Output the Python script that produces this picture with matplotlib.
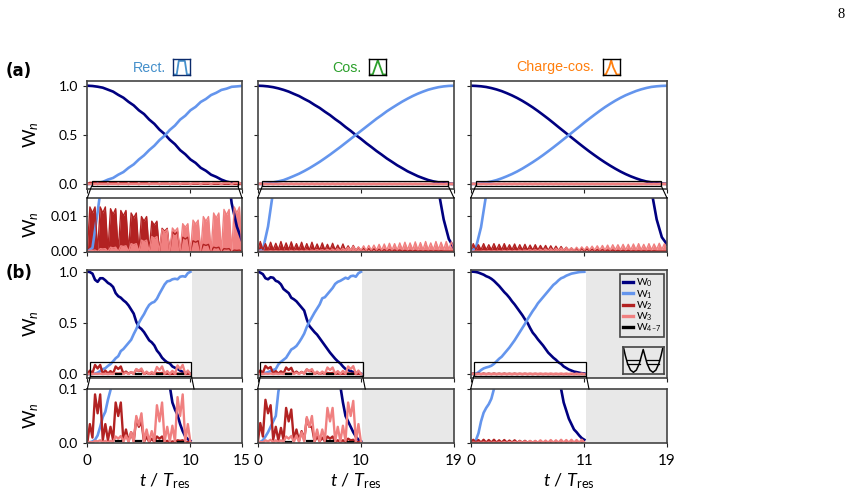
import numpy as np
import matplotlib
matplotlib.use("Agg")
import matplotlib.pyplot as plt
from matplotlib.lines import Line2D
from matplotlib.patches import Rectangle

plt.rcParams['font.family'] = ['Lato', 'DejaVu Sans']
plt.rcParams['mathtext.fontset'] = 'custom'
plt.rcParams['mathtext.rm'] = 'Lato'
plt.rcParams['mathtext.it'] = 'Lato:italic'

W, H = 853, 491

# populations, rectangular / cosine / charge-cosine pulses, closed system
a1_w0 = [1.0,.997,.99,.98,.96,.94,.907,.878,.836,.80,.75,.712,.656,.612,.553,.508,.45,.405,.345,.303,.25,.215,.165,.135,.095,.073,.045,.025,.0135,.007,.003]
a1_w1 = [0,.001,.011,.022,.045,.062,.095,.122,.165,.2,.25,.292,.345,.39,.447,.492,.55,.595,.655,.695,.75,.785,.835,.865,.905,.928,.957,.97,.989,.993,.998]
a1_w2 = [0,.0125,.0108,.0125, 0,.0125,.0108,.0125, 0,.012,.0104,.012, 0,.0115,.01,.0115,
         0,.0108,.0094,.0108, 0,.0098,.0085,.0098, 0,.0085,.0074,.0085, 0,.0065,.0057,.0065,
         0,.0055,.0048,.0055, 0,.004,.0035,.004, 0,.003,.0026,.003, 0,.002,.0017,.002,
         0,.0012,.001,.0012, 0,.0008,.0007,.0008, 0,.0004,.0003,.0004, 0]
a1_w3 = [0,.0004,.0003,.0004, 0,.0008,.0007,.0008, 0,.0012,.001,.0012, 0,.0016,.0014,.0016,
         0,.0022,.0019,.0022, 0,.0032,.0028,.0032, 0,.0042,.0037,.0042, 0,.0062,.0054,.0062,
         0,.0066,.0057,.0066, 0,.0078,.0068,.0078, 0,.0088,.0077,.0088, 0,.0098,.0085,.0098,
         0,.0108,.0094,.0108, 0,.0118,.0103,.0118, 0,.0125,.0108,.0125, 0]

a2_w0 = [1.0,.998,.993,.985,.973,.958,.94,.917,.895,.866,.839,.805,.774,.736,.701,.66,.623,.58,.541,.498,.459,.416,.377,.336,.299,.26,.226,.191,.161,.13,.105,.08,.06,.041,.027,.017,.009,.0035,.001]
a2_w1 = [0,.0005,.007,.017,.027,.04,.06,.082,.105,.132,.161,.193,.226,.262,.299,.338,.377,.418,.459,.5,.541,.582,.623,.664,.701,.74,.774,.807,.839,.868,.895,.919,.94,.959,.973,.985,.993,.998,1.0]
a2_w2 = [.0003,.0028,.0005,.0022,.0005,.0026,.0005,.0023,.0005,.0028,.0005,.0024,.0005,.0027,.0005,.0022,.0005,.0026,.0004,.0022,
         .0004,.0026,.0004,.0021,.0004,.0024,.0004,.002,.0004,.0023,.0004,.0018,.0003,.0021,.0003,.0016,.0003,.0017,.0003,.0012,
         .0003,.0009,.0002,.0008,.0002,.0007,.0002,.0006,.0002,.0005,.0002,.0005,.0002,.0004,.0002,.0004,.0001,.0003,.0001,.0003,
         .0001,.0003,.0001,.0002,.0001,.0002,.0001,.0002,.0001,.0002,.0001,.0002,.0001,.0001,.0001,.0001,.0001]
a2_w3 = [.0001,.0001,.0001,.0001,.0001,.0002,.0001,.0002,.0001,.0002,.0001,.0002,.0001,.0003,.0001,.0003,.0001,.0003,.0001,.0004,
         .0001,.0004,.0002,.0005,.0002,.0005,.0002,.0006,.0002,.0007,.0002,.0008,.0002,.0009,.0003,.0012,.0003,.0015,.0003,.0013,
         .0003,.0016,.0003,.0017,.0004,.0018,.0004,.002,.0004,.0021,.0004,.0023,.0004,.0022,.0004,.0024,.0005,.0026,.0005,.0024,
         .0005,.0027,.0005,.0025,.0005,.0028,.0005,.0024,.0005,.0028,.0006,.0026,.0006,.0028,.0006,.0027,.0006]

a3_w0 = [1.0,.998,.994,.987,.976,.962,.945,.924,.901,.875,.846,.814,.78,.743,.704,.664,.622,.579,.537,.495,.453,.411,.37,.33,.292,.255,.22,.187,.156,.127,.101,.078,.058,.04,.026,.017,.009,.004,.002]
a3_w1 = [0,.001,.0068,.016,.026,.04,.058,.079,.102,.128,.157,.189,.222,.257,.294,.333,.373,.414,.456,.498,.54,.582,.625,.666,.706,.745,.782,.816,.848,.877,.903,.925,.946,.963,.977,.988,.994,.998,1.0]
a3_w2 = [.0004,.0022,.0005,.0019,.0005,.0022,.0005,.0019,.0005,.0022,.0005,.002,.0005,.0022,.0005,.0019,.0005,.0021,.0004,.0019,
         .0004,.002,.0004,.0018,.0004,.0019,.0004,.0017,.0004,.0017,.0003,.0016,.0003,.0015,.0003,.0014,.0003,.0012,.0003,.001,
         .0003,.0009,.0002,.0008,.0002,.0007,.0002,.0006,.0002,.0005,.0002,.0005,.0002,.0004,.0002,.0004,.0001,.0003,.0001,.0003,
         .0001,.0003,.0001,.0002,.0001,.0002,.0001,.0002,.0001,.0002,.0001,.0002,.0001,.0001,.0001,.0001,.0001]
a3_w3 = [.0001,.0001,.0001,.0001,.0001,.0002,.0001,.0002,.0001,.0002,.0001,.0002,.0001,.0003,.0001,.0003,.0001,.0003,.0001,.0004,
         .0001,.0004,.0002,.0005,.0002,.0005,.0002,.0006,.0002,.0007,.0002,.0008,.0002,.0009,.0003,.001,.0003,.0011,.0003,.001,
         .0003,.0012,.0003,.0013,.0004,.0014,.0004,.0015,.0004,.0016,.0004,.0017,.0004,.0018,.0004,.0019,.0005,.0019,.0005,.002,
         .0005,.002,.0005,.0021,.0005,.0022,.0005,.002,.0005,.0022,.0005,.0021,.0006,.0023,.0006,.0022,.0006]

# same pulses with a leakage channel open
b1_w0 = [1.0,.995,.98,.92,.90,.935,.935,.915,.89,.875,.85,.79,.76,.745,.72,.70,.67,.63,.59,.51,.46,.44,.41,.37,.33,.31,.28,.23,.20,.16,.135,.115,.105,.075,.062,.052,.035,.022,.012,.007,.004]
b1_w1 = [0,.001,.003,.006,.014,.03,.048,.058,.08,.098,.125,.155,.175,.225,.245,.275,.305,.335,.39,.44,.50,.545,.585,.635,.675,.695,.705,.735,.785,.83,.875,.905,.91,.925,.93,.925,.95,.955,.95,.985,.998]
b1_w2 = [0,.035,.01,.09,.055,.09,.005,.035,.005,.03,.005,.075,.05,.075,.004,.025,.003,.02,.003,.045,.03,.04,.002,.012,.002,.008,.002,.012,.008,.012,.002,.004,.001,.003,.002,.005,.004,.005,.001,.002,.001]
b1_w3 = [0,.002,.001,.004,.003,.005,.001,.004,.001,.004,.002,.012,.008,.013,.002,.014,.002,.02,.003,.05,.033,.055,.003,.025,.003,.022,.003,.07,.04,.075,.003,.03,.003,.032,.003,.085,.05,.09,.002,.035,.001]
b1_w47 = [0,0,0,.0005,.0005,.0005,0,.0005,0,.0005,.001,.003,.003,.003,.001,.0005,0,.0005,.001,.003,.003,.003,.001,.0005,0,.0005,.001,.003,.003,.003,.001,.0005,0,.0005,.001,.002,.002,.002,0,0,0]

b2_w0 = [1.0,.99,.975,.935,.925,.945,.94,.91,.90,.875,.83,.81,.79,.745,.73,.71,.68,.65,.62,.535,.47,.44,.41,.385,.35,.315,.28,.245,.21,.18,.15,.125,.105,.075,.05,.04,.03,.02,.012,.006,.003]
b2_w1 = [0,.002,.005,.012,.02,.03,.04,.05,.095,.12,.14,.16,.2,.24,.255,.275,.31,.35,.395,.46,.51,.555,.6,.64,.68,.74,.75,.78,.81,.84,.88,.90,.91,.925,.94,.93,.955,.96,.95,.985,.998]
b2_w2 = [0,.037,.012,.08,.055,.07,.006,.03,.005,.028,.006,.065,.04,.062,.005,.025,.004,.022,.006,.045,.03,.03,.003,.012,.003,.01,.003,.012,.008,.012,.002,.005,.002,.005,.002,.008,.005,.006,.001,.002,.001]
b2_w3 = [0,.002,.001,.005,.003,.006,.001,.005,.002,.005,.002,.012,.008,.013,.002,.014,.002,.02,.003,.048,.03,.05,.003,.025,.003,.025,.004,.065,.04,.065,.003,.03,.003,.032,.004,.075,.05,.078,.003,.035,.001]
b2_w47 = [0,0,0,.0005,.0005,.0005,0,.0005,0,.0005,.001,.002,.002,.002,.001,.0005,0,.0005,.001,.003,.003,.003,.001,.0005,0,.0005,.001,.003,.003,.003,.001,.0005,0,.0005,.001,.002,.002,.002,0,0,0]

b3_w0 = [1.0,.999,.996,.99,.98,.97,.955,.945,.93,.91,.885,.86,.83,.80,.775,.745,.71,.68,.645,.61,.575,.535,.5,.45,.405,.375,.34,.31,.28,.245,.21,.185,.16,.14,.115,.10,.075,.06,.045,.035,.025,.02,.014,.009,.006]
b3_w1 = [0,.001,.005,.018,.04,.056,.065,.072,.082,.1,.125,.15,.17,.2,.23,.26,.295,.33,.37,.41,.45,.49,.535,.575,.615,.65,.69,.72,.75,.78,.81,.84,.87,.89,.915,.935,.945,.96,.97,.98,.985,.99,.995,.997,.998]
b3_w2 = [.0006,.006,.0006,.0055,.0006,.006,.0006,.0055,.0006,.006,.0006,.005,.0006,.0055,.0006,.0045,.0006,.005,.0005,.004,.0005,.004,.0005,.003,.0005,.003,.0004,.002,.0004,.0018,.0004,.0015,.0003,.0012,.0003,.001,.0003,.001,.0002,.0009,.0002,.0008,.0002,.0007,.0002]
b3_w3 = [.0002,.0007,.0002,.0008,.0002,.0009,.0002,.001,.0003,.001,.0003,.0012,.0003,.0015,.0003,.0018,.0004,.002,.0004,.003,.0005,.003,.0005,.004,.0005,.004,.0005,.005,.0006,.0045,.0006,.0055,.0006,.005,.0006,.006,.0006,.0055,.0006,.006,.0006,.0055,.0006,.006,.0006]
b3_w47 = [0,0,0,.0002,0,.0002,0,.0002,0,.0002,0,.0002,0,.0002,0,.0002,0,.0002,0,.0002,0,.0002,0,.0002,0,.0002,0,.0002,0,.0002,0,.0002,0,.0002,0,.0002,0,.0002,0,.0002,0,.0002,0,.0002,0]

titles = ['Rect.', 'Cos.', 'Charge-cos.']
title_colors = ['#4590CB', '#2CA02C', '#FF7F0E']
title_left = [132.7, 332.3, 516.7]
icon_left = [173.3, 369.3, 602.7]
icon_frame = ['#0B2A6B', 'black', 'black']
icon_x = [[0, .2, .32, .68, .8, 1], [0, .2, .5, .8, 1], [0, .18, .38, .5, .62, .82, 1]]
icon_y = [[.05, .05, .9, .9, .05, .05], [.05, .05, .95, .05, .05], [.05, .05, .5, .95, .5, .05, .05]]

xlims = [15, 19, 19]
shade_from = [10.15, 10.1, 11.15]
ticks = [[0, 10, 15], [0, 10, 19], [0, 11, 19]]
col_px = [(87.3, 242), (257.7, 454), (470.7, 667)]
rect_a = [(.42, 14.6), (.45, 18.45), (.48, 18.45)]
rect_b = [(.3, 10.1), (.26, 10.16), (.3, 11.2)]

well_x = [-1, -.92, -.8, -.65, -.5, -.35, -.2, -.08, 0, .08, .2, .35, .5, .65, .8, .92, 1]
well_y = [1, .72, .38, .12, .03, .12, .38, .72, .95, .72, .38, .12, .03, .12, .38, .72, 1]
well_levels = [.38, .52]

series_a = [(a1_w0, a1_w1, a1_w2, a1_w3), (a2_w0, a2_w1, a2_w2, a2_w3), (a3_w0, a3_w1, a3_w2, a3_w3)]
series_b = [(b1_w0, b1_w1, b1_w2, b1_w3, b1_w47), (b2_w0, b2_w1, b2_w2, b2_w3, b2_w47), (b3_w0, b3_w1, b3_w2, b3_w3, b3_w47)]

colors = ['#000080', '#6495ED', '#B22222', '#F08080', 'black']
SPINE = '#444444'
GREY = '#E8E8E8'

fig = plt.figure(figsize=(W / 100, H / 100), dpi=100)


def px_axes(x0, x1, ytop, ybot):
    return fig.add_axes([x0 / W, 1 - ybot / H, (x1 - x0) / W, (ybot - ytop) / H])


def style(ax, col, xmax, xt, yt, ylab, ylabels, xlabels=False):
    ax.set_xlim(0, xmax)
    ax.set_xticks(xt)
    ax.set_yticks(yt)
    ax.set_yticklabels(ylabels if col == 0 else [])
    ax.set_xticklabels([str(v) for v in xt] if xlabels else [])
    ax.tick_params(length=3, width=.8, pad=3.5, labelsize=10, color='#222222')
    ax.tick_params(axis='x', pad=5, labelsize=11)
    for s in ax.spines.values():
        s.set_color(SPINE)
        s.set_linewidth(1.2)
    if col == 0:
        ax.set_ylabel(ylab, fontsize=13, labelpad=0)
        ax.yaxis.set_label_coords(-.30, .5)


def draw(ax, tw, tp, d, filled=False):
    lw = 1.0 if filled else 1.7
    ax.plot(tw, d[0], color=colors[0], lw=1.9)
    ax.plot(tw, d[1], color=colors[1], lw=1.9)
    ax.plot(tp, d[2], color=colors[2], lw=lw)
    if filled:
        ax.fill_between(tp, d[2], color=colors[2], lw=0)
        ax.fill_between(tp, d[3], color=colors[3], lw=0)
    ax.plot(tp, d[3], color=colors[3], lw=lw)
    if len(d) > 4:
        # only the visible excursions, the rest stays under the baseline
        ax.plot(tp, np.ma.masked_less(d[4], .002), color=colors[4], lw=1.6)


def connect(x0, y0, x1, y1):
    fig.add_artist(Line2D([x0 / W, x1 / W], [1 - y0 / H, 1 - y1 / H], color='black', lw=.8))


for col in range(3):
    x0, x1 = col_px[col]
    ppt = (x1 - x0) / xlims[col]

    # closed system: main panel and magnified baseline
    tw = np.arange(len(series_a[col][0])) * .5
    tp = np.arange(len(series_a[col][2])) * .25
    ax = px_axes(x0, x1, 80.7, 189.3)
    draw(ax, tw, tp, series_a[col])
    ax.set_ylim(-.0535, 1.051)
    style(ax, col, xlims[col], ticks[col], [0, .5, 1], 'W$_n$', ['0.0', '0.5', '1.0'])
    r0, r1 = rect_a[col]
    ax.add_patch(Rectangle((r0, -.02), r1 - r0, .054, fill=False, ec='black', lw=.9, zorder=5))
    connect(x0 + r0 * ppt, 186, x0, 198)
    connect(x0 + r1 * ppt, 186, x1, 198)

    ax = px_axes(x0, x1, 198, 251.5)
    draw(ax, tw, tp, series_a[col], filled=True)
    ax.set_ylim(0, .015)
    style(ax, col, xlims[col], ticks[col], [0, .01], 'W$_n$', ['0.00', '0.01'])

    # open system: data stops at the end of the pulse, rest is shaded
    tw = np.arange(len(series_b[col][0])) * .25
    ax = px_axes(x0, x1, 270, 378)
    ax.axvspan(shade_from[col], xlims[col], color=GREY, lw=0)
    draw(ax, tw, tw, series_b[col])
    ax.set_ylim(-.0375, 1.0155)
    style(ax, col, xlims[col], ticks[col], [0, .5, 1], 'W$_n$', ['0.0', '0.5', '1.0'])
    r0, r1 = rect_b[col]
    ax.add_patch(Rectangle((r0, -.02), r1 - r0, .14, fill=False, ec='black', lw=.9, zorder=5))
    connect(x0 + r0 * ppt, 376, x0, 389)
    connect(x0 + r1 * ppt, 376, x0 + (r1 + .25) * ppt, 389)
    if col == 2:
        handles = [Line2D([], [], color=c, lw=2.4) for c in colors]
        labels = ['W$_0$', 'W$_1$', 'W$_2$', 'W$_3$', 'W$_{4\u20137}$']
        leg = ax.legend(handles, labels, loc='upper right', bbox_to_anchor=(664 / W, 1 - 273.7 / H),
                        bbox_transform=fig.transFigure, borderaxespad=0, fontsize=7.5, handlelength=.95,
                        handletextpad=.3, labelspacing=-.12, borderpad=.3, frameon=True, fancybox=False,
                        facecolor=GREY, edgecolor=SPINE, framealpha=1)
        leg.get_frame().set_linewidth(1.2)

    ax = px_axes(x0, x1, 389, 443)
    ax.axvspan(shade_from[col], xlims[col], color=GREY, lw=0)
    draw(ax, tw, tw, series_b[col])
    ax.set_ylim(0, .1)
    style(ax, col, xlims[col], ticks[col], [0, .1], 'W$_n$', ['0.0', '0.1'], xlabels=True)
    ax.set_xlabel(r'$t$ / $T_{\mathrm{res}}$', fontsize=13, labelpad=2)

    # pulse title with its envelope sketch
    fig.text(title_left[col] / W, 1 - 67.5 / H, titles[col], color=title_colors[col], fontsize=10.3,
             family='Liberation Sans', ha='left', va='center')
    ic = px_axes(icon_left[col], icon_left[col] + 17, 59.3, 75.3)
    ic.plot(icon_x[col], icon_y[col], color=title_colors[col], lw=1.3)
    ic.set_xlim(0, 1)
    ic.set_ylim(0, 1)
    ic.set_xticks([])
    ic.set_yticks([])
    for s in ic.spines.values():
        s.set_color(icon_frame[col])
        s.set_linewidth(1)

# double-well sketch
wl = px_axes(622.7, 663.7, 347, 374.3)
wl.set_facecolor(GREY)
wl.plot(well_x, well_y, color='black', lw=1.1)
for lev in well_levels:
    wl.plot([-.82, -.18], [lev, lev], color='black', lw=.9)
    wl.plot([.18, .82], [lev, lev], color='black', lw=.9)
wl.set_xlim(-1.05, 1.05)
wl.set_ylim(-.05, 1.05)
wl.set_xticks([])
wl.set_yticks([])
for s in wl.spines.values():
    s.set_color(SPINE)
    s.set_linewidth(1.2)

fig.text(6 / W, 1 - 71.5 / H, '(a)', fontsize=12, fontweight='bold', family='DejaVu Sans', ha='left', va='center')
fig.text(6 / W, 1 - 273 / H, '(b)', fontsize=12, fontweight='bold', family='DejaVu Sans', ha='left', va='center')
fig.text(841 / W, 1 - 15 / H, '8', fontsize=10.5, family='Liberation Serif', ha='center', va='center')

fig.savefig('out.png', dpi=100)
